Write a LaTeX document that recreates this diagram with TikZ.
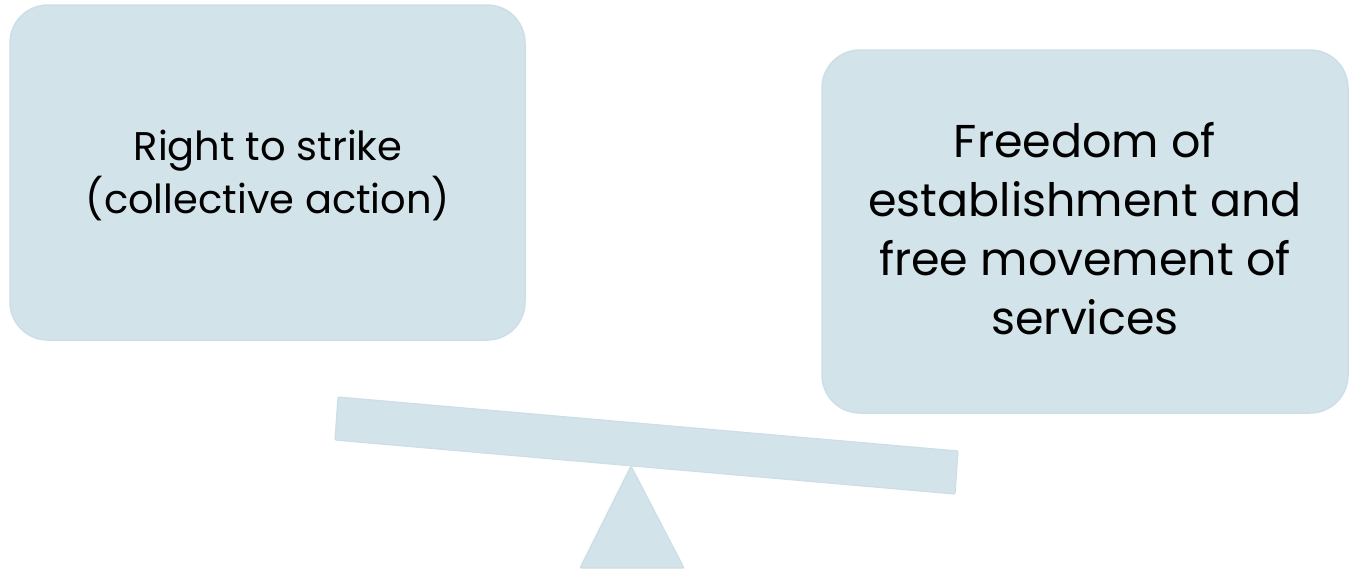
\documentclass[tikz,border=0pt]{standalone}
\usepackage{fontspec}
\setmainfont{Poppins}
\definecolor{boxfill}{RGB}{211,227,234}
\definecolor{boxline}{RGB}{204,222,230}
\begin{document}
\begin{tikzpicture}[x=1pt,y=-1pt,
  panel/.style={fill=boxfill,draw=boxline,line width=1.5pt,rounded corners=38pt},
  ptext/.style={align=center,text=black,inner sep=0pt},
  plank/.style={fill=boxfill,draw=boxline,line width=1.2pt,rounded corners=1pt}]
\useasboundingbox (0,0) rectangle (1354,571);
\draw[panel] (10,5) rectangle (525,340);
\draw[panel] (822,50) rectangle (1348,413);
\node[ptext,font=\fontsize{40}{53}\selectfont] (left) at (268,175) {Right to strike\\(collective action)};
\node[ptext,font=\fontsize{46}{59}\selectfont] (right) at (1085,229) {Freedom of\\establishment and\\free movement of\\services};
\draw[plank] (338,397) -- (958,451) -- (955,494) -- (335,440) -- cycle;
\draw[plank] (631,466) -- (684,568) -- (580,568) -- cycle;
\end{tikzpicture}
\end{document}
